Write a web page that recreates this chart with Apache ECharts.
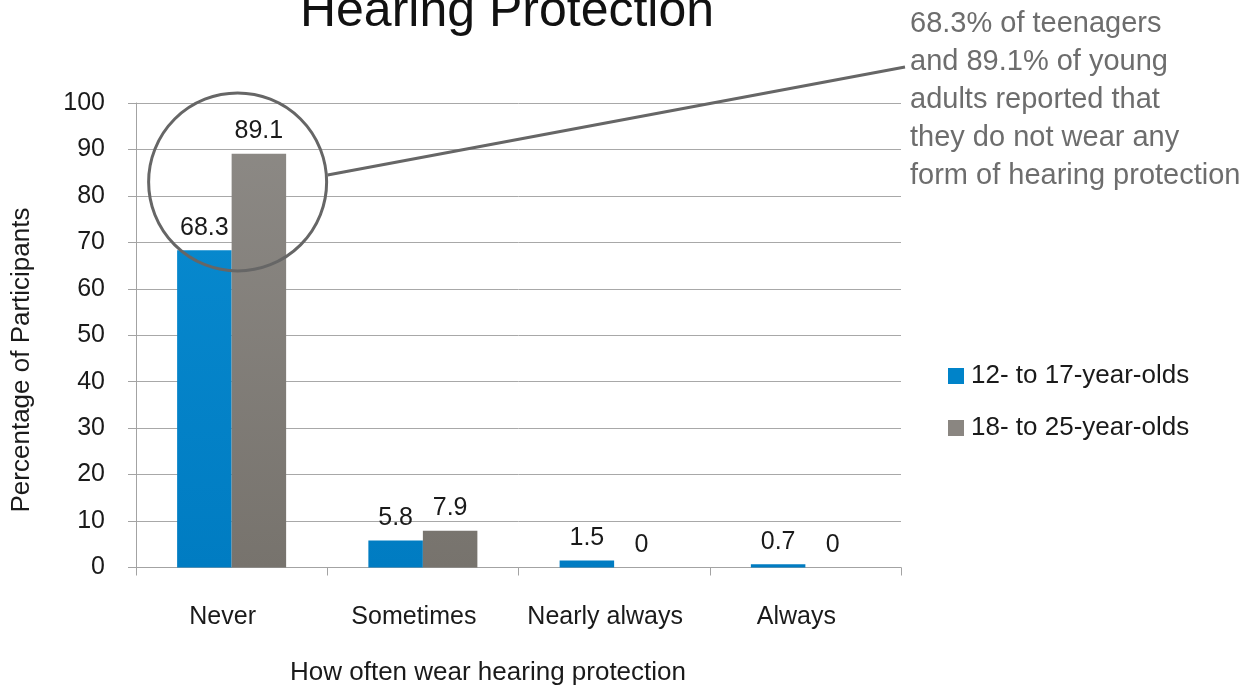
<!DOCTYPE html>
<html>
<head>
<meta charset="utf-8">
<script src="https://cdn.jsdelivr.net/npm/echarts@6/dist/echarts.min.js"></script>
<style>
  html, body { margin: 0; padding: 0; background: #fff; }
  #chart { width: 1245px; height: 685px; }
</style>
</head>
<body>
<div id="chart"></div>
<script>
// Survey answers: how often participants wear hearing protection
const categories = ['Never', 'Sometimes', 'Nearly always', 'Always'];
const teens = [68.3, 5.8, 1.5, 0.7];        // 12- to 17-year-olds (%)
const youngAdults = [89.1, 7.9, 0, 0];      // 18- to 25-year-olds (%)
const seriesNames = ['12- to 17-year-olds', '18- to 25-year-olds'];
const yTicks = { min: 0, max: 100, interval: 10 };

const titleText = 'Hearing Protection';
const xTitle = 'How often wear hearing protection';
const yTitle = 'Percentage of Participants';
const noteLines = [
  '68.3% of teenagers',
  'and 89.1% of young',
  'adults reported that',
  'they do not wear any',
  'form of hearing protection'
];

const FONT = '"Liberation Sans", Arial, sans-serif';
const GRID = { left: 136, right: 344, top: 103, bottom: 117.5 };

const blueFill = new echarts.graphic.LinearGradient(0, GRID.top, 0, 685 - GRID.bottom, [
  { offset: 0, color: '#0a8dd2' },
  { offset: 1, color: '#007cc2' }
], true);
const grayFill = new echarts.graphic.LinearGradient(0, GRID.top, 0, 685 - GRID.bottom, [
  { offset: 0, color: '#8e8b87' },
  { offset: 1, color: '#77736d' }
], true);

const valueLabel = {
  show: true,
  position: 'top',
  distance: 10,
  fontFamily: FONT,
  fontSize: 25,
  color: '#1a1a1a'
};

const chart = echarts.init(document.getElementById('chart'), null, { renderer: 'canvas' });

chart.setOption({
  animation: false,
  backgroundColor: '#ffffff',
  grid: GRID,
  legend: {
    orient: 'vertical',
    left: 943,
    top: 358,
    itemWidth: 16,
    itemHeight: 16,
    itemGap: 26,
    icon: 'rect',
    textStyle: { fontFamily: FONT, fontSize: 26, color: '#1a1a1a', padding: [0, 0, 0, 2] },
    data: [
      { name: seriesNames[0], itemStyle: { color: '#0083c9' } },
      { name: seriesNames[1], itemStyle: { color: '#8a8681' } }
    ]
  },
  xAxis: {
    type: 'category',
    data: categories,
    axisLine: { show: true, lineStyle: { color: '#a3a3a3', width: 1 } },
    axisTick: { show: true, length: 8, interval: 0, alignWithLabel: false, lineStyle: { color: '#a3a3a3' } },
    axisLabel: {
      interval: 0,
      margin: 37,
      fontFamily: FONT,
      fontSize: 25,
      color: '#1a1a1a',
      padding: [0, 18, 0, 0]
    },
    splitLine: { show: false }
  },
  yAxis: {
    type: 'value',
    min: yTicks.min,
    max: yTicks.max,
    interval: yTicks.interval,
    axisLine: { show: true, lineStyle: { color: '#a3a3a3', width: 1 } },
    axisTick: { show: true, length: 8, lineStyle: { color: '#a3a3a3' } },
    axisLabel: { margin: 31, fontFamily: FONT, fontSize: 25, color: '#1a1a1a' },
    splitLine: { show: true, lineStyle: { color: '#a8a8a8', width: 1 } }
  },
  series: [
    {
      name: seriesNames[0],
      type: 'bar',
      data: teens,
      barGap: '0%',
      barCategoryGap: '43%',
      itemStyle: { color: blueFill },
      label: valueLabel
    },
    {
      name: seriesNames[1],
      type: 'bar',
      data: youngAdults,
      barGap: '0%',
      barCategoryGap: '43%',
      itemStyle: { color: grayFill },
      label: valueLabel
    }
  ]
});

// Callout: ring around the "Never" bars with a leader line to the note
const ringCenter = chart.convertToPixel({ xAxisIndex: 0, yAxisIndex: 0 }, [categories[0], 83]);
const cx = ringCenter[0] + 6;
const cy = ringCenter[1];
const ringR = 89;

chart.setOption({
  graphic: [
    {
      type: 'text',
      x: 507, y: 12,
      style: {
        text: titleText,
        align: 'center', verticalAlign: 'middle',
        fontFamily: FONT, fontSize: 50, fill: '#111111'
      },
      silent: true
    },
    {
      type: 'text',
      rotation: Math.PI / 2,
      x: 22, y: 360,
      style: {
        text: yTitle,
        align: 'center', verticalAlign: 'middle',
        fontFamily: FONT, fontSize: 26, fill: '#1a1a1a'
      },
      silent: true
    },
    {
      type: 'text',
      x: 488, y: 673,
      style: {
        text: xTitle,
        align: 'center', verticalAlign: 'middle',
        fontFamily: FONT, fontSize: 26, fill: '#1a1a1a'
      },
      silent: true
    },
    {
      type: 'text',
      x: 910, y: 5,
      style: {
        text: noteLines.join('\n'),
        align: 'left', verticalAlign: 'top',
        lineHeight: 38,
        fontFamily: FONT, fontSize: 29, fill: '#6d6d6d'
      },
      silent: true
    },
    {
      type: 'circle',
      shape: { cx: cx, cy: cy, r: ringR },
      style: { fill: 'none', stroke: '#666666', lineWidth: 3 },
      silent: true,
      z: 100
    },
    {
      type: 'line',
      shape: { x1: cx + ringR + 1, y1: cy - 7, x2: 905, y2: 67 },
      style: { stroke: '#666666', lineWidth: 3 },
      silent: true,
      z: 100
    }
  ]
});
</script>
</body>
</html>
